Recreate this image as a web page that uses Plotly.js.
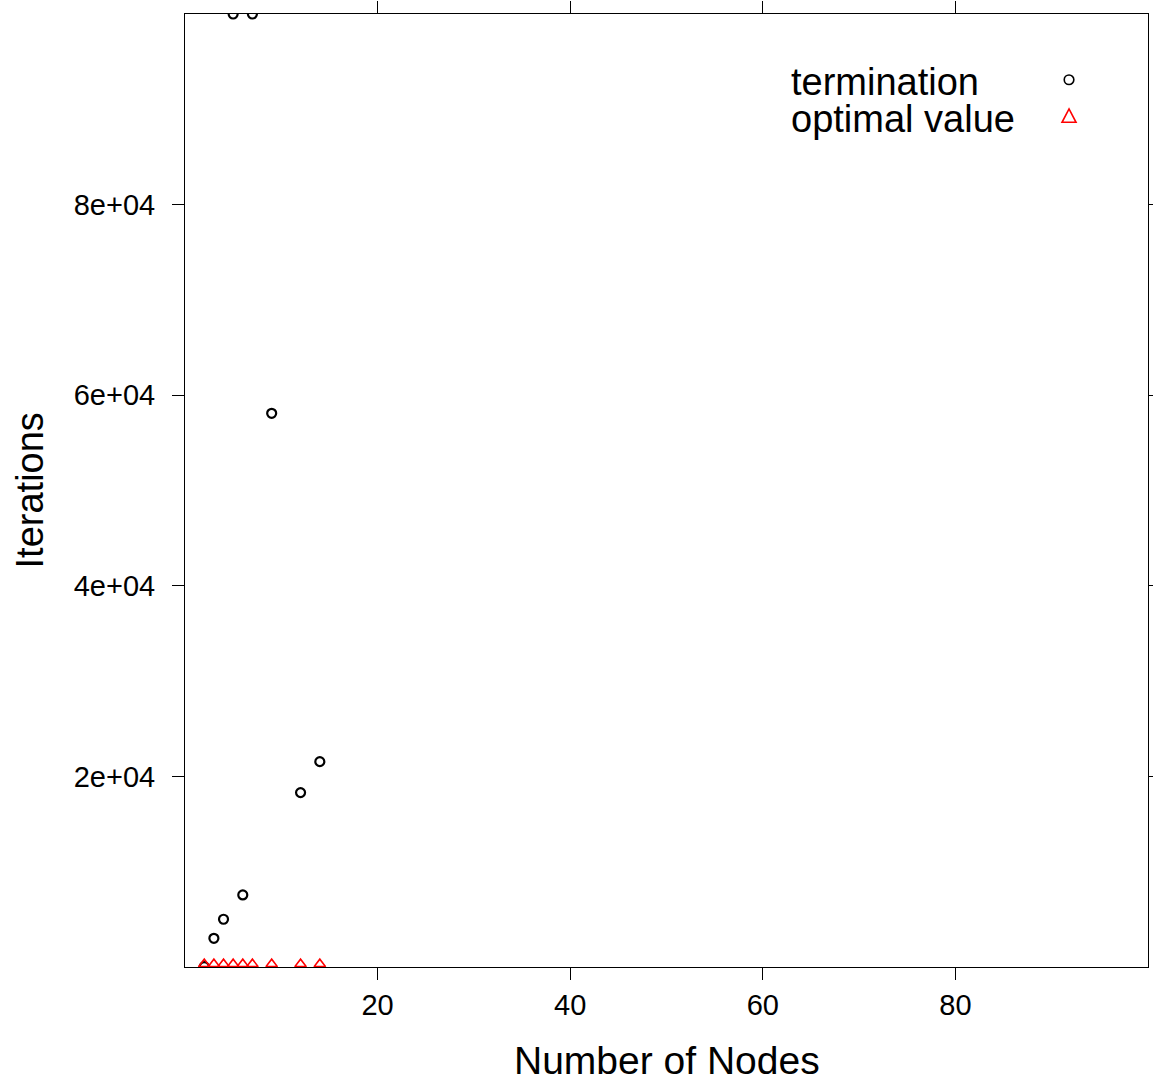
<!DOCTYPE html>
<html>
<head>
<meta charset="utf-8">
<script src="https://cdn.plot.ly/plotly-3.0.1.min.js"></script>
<style>
  html, body { margin: 0; padding: 0; background: #ffffff; }
  #chart { width: 1153px; height: 1082px; }
</style>
</head>
<body>
<div id="chart"></div>
<script>
// Data
const nodes = [2, 3, 4, 5, 6, 7, 9, 12, 14];
const terminationIterations = [40, 3010, 5010, 100000, 7560, 100000, 58100, 18300, 21550];
const optimalValueIterations = [300, 300, 300, 300, 300, 300, 300, 300, 300];

const xTickValues = [20, 40, 60, 80];
const xTickLabels = ['20', '40', '60', '80'];
const yTickValues = [20000, 40000, 60000, 80000];
const yTickLabels = ['2e+04', '4e+04', '6e+04', '8e+04'];

const seriesNames = ['termination', 'optimal value'];
const xTitle = 'Number of Nodes';
const yTitle = 'Iterations';

const FONT = '"Liberation Sans", Arial, Helvetica, sans-serif';

const traces = [
  {
    type: 'scatter', mode: 'markers', name: seriesNames[0],
    x: nodes, y: terminationIterations,
    marker: { symbol: 'circle-open', size: 9, color: '#000000', line: { color: '#000000', width: 2.2 } },
    showlegend: false, cliponaxis: true
  },
  {
    type: 'scatter', mode: 'markers', name: seriesNames[1],
    x: nodes, y: optimalValueIterations,
    marker: { symbol: 'triangle-up-open', size: 10, color: '#ff0000', line: { color: '#ff0000', width: 1.6 } },
    showlegend: false, cliponaxis: true
  }
];

const axisCommon = {
  showgrid: false, zeroline: false,
  showline: true, linecolor: '#000000', linewidth: 1,
  mirror: 'ticks', ticks: 'outside', ticklen: 12, tickwidth: 1, tickcolor: '#000000',
  tickfont: { family: FONT, size: 29, color: '#000000' },
  tickmode: 'array'
};

const layout = {
  width: 1153, height: 1082,
  margin: { l: 185, r: 5, t: 14, b: 115, pad: 0 },
  paper_bgcolor: '#ffffff', plot_bgcolor: '#ffffff',
  showlegend: false,
  xaxis: Object.assign({}, axisCommon, {
    range: [0, 100], tickvals: xTickValues, ticktext: xTickLabels
  }),
  yaxis: Object.assign({}, axisCommon, {
    range: [0, 100000], tickvals: yTickValues, ticktext: yTickLabels,
    ticklabelstandoff: 11
  }),
  annotations: [
    { text: yTitle, xref: 'paper', yref: 'paper', x: -0.161, y: 0.5, textangle: -90,
      xanchor: 'center', yanchor: 'middle', showarrow: false,
      font: { family: FONT, size: 38, color: '#000000' } },
    { text: xTitle, xref: 'paper', yref: 'paper', x: 0.5, y: -0.0976,
      xanchor: 'center', yanchor: 'middle', showarrow: false,
      font: { family: FONT, size: 39, color: '#000000' } },
    { text: seriesNames[0], xref: 'paper', yref: 'paper', x: 0.6272, y: 0.9285,
      xanchor: 'left', yanchor: 'middle', showarrow: false,
      font: { family: FONT, size: 38, color: '#000000' } },
    { text: seriesNames[1], xref: 'paper', yref: 'paper', x: 0.6272, y: 0.8898,
      xanchor: 'left', yanchor: 'middle', showarrow: false,
      font: { family: FONT, size: 38, color: '#000000' } }
  ],
  shapes: [
    { type: 'circle', xref: 'paper', yref: 'paper', xsizemode: 'pixel', ysizemode: 'pixel',
      xanchor: 0.918, yanchor: 0.931, x0: -4.8, x1: 4.8, y0: -4.8, y1: 4.8,
      line: { color: '#000000', width: 1.6 }, fillcolor: 'rgba(0,0,0,0)' },
    { type: 'path', xref: 'paper', yref: 'paper', xsizemode: 'pixel', ysizemode: 'pixel',
      xanchor: 0.918, yanchor: 0.893, path: 'M-7,-6.3 L7,-6.3 L0,7 Z',
      line: { color: '#ff0000', width: 1.6 }, fillcolor: 'rgba(0,0,0,0)' }
  ]
};

Plotly.newPlot('chart', traces, layout, { displayModeBar: false, responsive: false });
</script>
</body>
</html>
